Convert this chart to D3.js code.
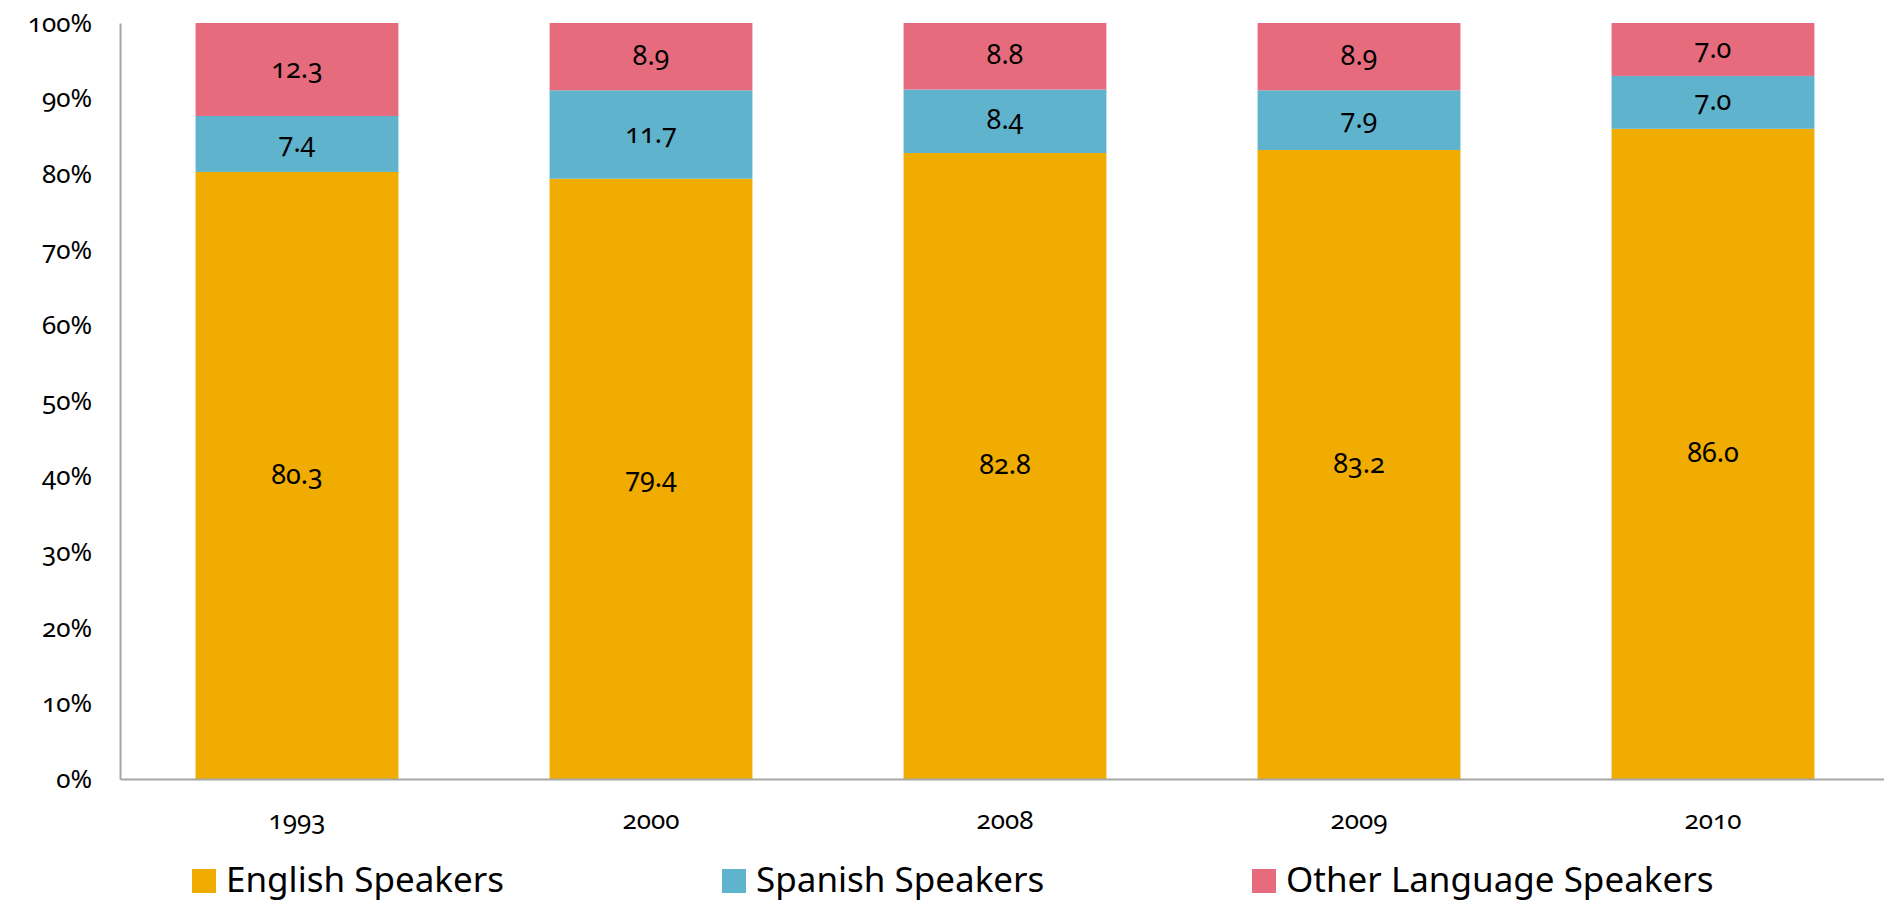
<!DOCTYPE html>
<html lang="en">
<head>
    <meta charset="UTF-8">
    <script src="https://d3js.org/d3.v7.min.js"></script>
    <title>Language Speakers</title>
    <style>
        body { margin: 0; background: #fff; }
        text { font-family: "Noto Sans", "Open Sans", sans-serif; font-variant-numeric: oldstyle-nums; font-feature-settings: "onum"; fill: #000; }
    </style>
</head>
<body>
<div id="chart"></div>
<script>
    // data
    var years = ["1993", "2000", "2008", "2009", "2010"];
    var series = ["English Speakers", "Spanish Speakers", "Other Language Speakers"];
    var english = [80.3, 79.4, 82.8, 83.2, 86.0];
    var spanish = [7.4, 11.7, 8.4, 7.9, 7.0];
    var other = [12.3, 8.9, 8.8, 8.9, 7.0];
    var yTicks = [0, 10, 20, 30, 40, 50, 60, 70, 80, 90, 100];
    var colors = ["#f0ac00", "#5fb3cc", "#e66c7d"];

    var canvasWidth = 1884;
    var canvasHeight = 904;

    var svg = d3.select("#chart").append("svg")
        .attr("width", canvasWidth)
        .attr("height", canvasHeight);

    var xScale = d3.scaleBand().domain(years).range([120, 1890])
        .paddingInner(0.427).paddingOuter(0.2135);
    var yScale = d3.scaleLinear().domain([0, 100]).range([779, 23]);
    var color = d3.scaleOrdinal().domain(series).range(colors);

    var table = years.map(function(y, i) {
        return {year: y, "English Speakers": english[i], "Spanish Speakers": spanish[i], "Other Language Speakers": other[i]};
    });
    var stacked = d3.stack().keys(series)(table);

    // bars
    var layers = svg.selectAll(".layer").data(stacked).enter().append("g")
        .attr("class", "layer")
        .attr("fill", function(d) { return color(d.key); });
    layers.selectAll("rect").data(function(d) { return d; }).enter().append("rect")
        .attr("x", function(d) { return xScale(d.data.year); })
        .attr("y", function(d) { return yScale(d[1]); })
        .attr("width", xScale.bandwidth())
        .attr("height", function(d) { return yScale(d[0]) - yScale(d[1]); });

    // segment labels
    layers.selectAll(".lab").data(function(d) { return d; }).enter().append("text")
        .attr("class", "lab")
        .attr("x", function(d) { return xScale(d.data.year) + xScale.bandwidth() / 2; })
        .attr("y", function(d) { return yScale((d[0] + d[1]) / 2); })
        .attr("dy", "0.3em")
        .attr("text-anchor", "middle")
        .attr("font-size", "27px")
        .text(function(d) { return d3.format(".1f")(d[1] - d[0]); });

    // y axis
    var yAxis = svg.append("g")
        .attr("transform", "translate(120,0)")
        .call(d3.axisLeft(yScale).tickValues(yTicks).tickSize(0).tickPadding(28)
            .tickFormat(function(d) { return d + "%"; }));
    yAxis.select(".domain").attr("stroke", "#a6a6a6").attr("stroke-width", 2);
    yAxis.selectAll("text").attr("font-size", "26px").attr("font-family", null);

    // x axis
    var xAxis = svg.append("g")
        .attr("transform", "translate(0,779)")
        .call(d3.axisBottom(xScale).tickSize(0).tickPadding(32));
    xAxis.select(".domain").attr("stroke", "#a6a6a6").attr("stroke-width", 2);
    xAxis.selectAll("text").attr("font-size", "26px").attr("font-family", null);

    // legend
    var legend = svg.selectAll(".legend").data(series).enter().append("g")
        .attr("class", "legend")
        .attr("transform", function(d, i) { return "translate(" + (192 + i * 530) + ",869)"; });
    legend.append("rect")
        .attr("width", 24)
        .attr("height", 24)
        .attr("fill", function(d) { return color(d); });
    legend.append("text")
        .attr("x", 34)
        .attr("y", 23)
        .attr("font-size", "35px")
        .text(function(d) { return d; });
</script>
</body>
</html>
